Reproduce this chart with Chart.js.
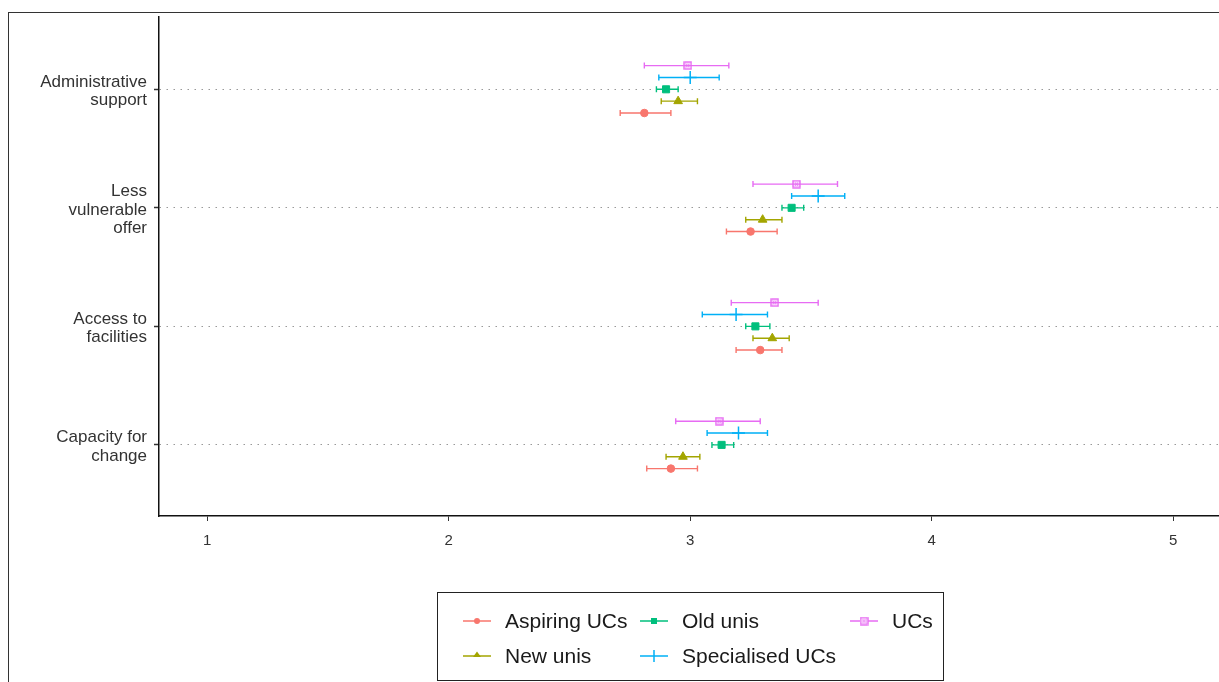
<!DOCTYPE html>
<html>
<head>
<meta charset="utf-8">
<title>Dot and whisker chart</title>
<script src="https://cdn.jsdelivr.net/npm/chart.js@4.4.0/dist/chart.umd.min.js"></script>
<style>
  html, body { margin: 0; padding: 0; background: #fff; }
  #wrap { position: relative; width: 1219px; height: 682px; overflow: hidden; font-family: "Liberation Sans", Arial, sans-serif; }
  #frame { position: absolute; left: 8px; top: 12px; width: 1300px; height: 700px; border-left: 1px solid #333; border-top: 1px solid #333; }
  #chart { position: absolute; left: 0; top: 0; }
  #legend { position: absolute; left: 437px; top: 592px; width: 507px; height: 89px; border: 1px solid #222; box-sizing: border-box; }
  .lg-mark { position: absolute; }
  .lg-text { position: absolute; font-size: 21px; color: #1a1a1a; line-height: 24px; white-space: nowrap; }
</style>
</head>
<body>
<div id="wrap">
  <div id="frame"></div>
  <canvas id="chart" width="1219" height="682"></canvas>
  <div id="legend"></div>
</div>
<script>
/* ===== DATA ===== */
// categories top to bottom, multi-line tick labels
const categories = [['Administrative', 'support'], ['Less', 'vulnerable', 'offer'], ['Access to', 'facilities'], ['Capacity for', 'change']];
const categoryPos = [4, 3, 2, 1];
const xTicks = [1, 2, 3, 4, 5];

const seriesNames = ['Aspiring UCs', 'New unis', 'Old unis', 'Specialised UCs', 'UCs'];
const seriesColors = ['#F8766D', '#A3A500', '#00BF7D', '#00B0F6', '#E76BF3'];
const seriesDodge = [-0.2, -0.1, 0, 0.1, 0.2];

// means and interval ends, same order as categories
const aspiringMean = [2.81, 3.25, 3.29, 2.92];
const aspiringLow  = [2.71, 3.15, 3.19, 2.82];
const aspiringHigh = [2.92, 3.36, 3.38, 3.03];

const newMean = [2.95, 3.30, 3.34, 2.97];
const newLow  = [2.88, 3.23, 3.26, 2.90];
const newHigh = [3.03, 3.38, 3.41, 3.04];

const oldMean = [2.90, 3.42, 3.27, 3.13];
const oldLow  = [2.86, 3.38, 3.23, 3.09];
const oldHigh = [2.95, 3.47, 3.33, 3.18];

const specMean = [3.00, 3.53, 3.19, 3.20];
const specLow  = [2.87, 3.42, 3.05, 3.07];
const specHigh = [3.12, 3.64, 3.32, 3.32];

const ucMean = [2.99, 3.44, 3.35, 3.12];
const ucLow  = [2.81, 3.26, 3.17, 2.94];
const ucHigh = [3.16, 3.61, 3.53, 3.29];

const seriesMean = [aspiringMean, newMean, oldMean, specMean, ucMean];
const seriesLow = [aspiringLow, newLow, oldLow, specLow, ucLow];
const seriesHigh = [aspiringHigh, newHigh, oldHigh, specHigh, ucHigh];

const FONT = '"Liberation Sans", Arial, sans-serif';

// square with a cross inside (UCs marker)
function squareCross(color, size) {
  const c = document.createElement('canvas');
  c.width = size; c.height = size;
  const g = c.getContext('2d');
  g.fillStyle = 'rgba(231,107,243,0.25)';
  g.fillRect(1, 1, size - 2, size - 2);
  g.strokeStyle = color;
  g.lineWidth = 1.4;
  g.strokeRect(1, 1, size - 2, size - 2);
  g.lineWidth = 1;
  g.beginPath();
  g.moveTo(3, 3); g.lineTo(size - 3, size - 3);
  g.moveTo(size - 3, 3); g.lineTo(3, size - 3);
  g.stroke();
  return c;
}

const pointStyles = ['circle', 'triangle', 'rect', 'cross', squareCross(seriesColors[4], 9)];
const pointRadius = [3.8, 5, 5, 6.5, 5];

const datasets = seriesNames.map((name, i) => ({
  label: name,
  data: seriesMean[i].map((m, k) => ({
    x: m,
    y: categoryPos[k] + seriesDodge[i],
    low: seriesLow[i][k],
    high: seriesHigh[i][k]
  })),
  borderColor: seriesColors[i],
  backgroundColor: seriesColors[i],
  pointStyle: pointStyles[i],
  pointRadius: pointRadius[i],
  pointHoverRadius: pointRadius[i],
  pointBorderWidth: i === 3 ? 1.5 : 1,
  showLine: false
}));

// whiskers drawn under the points
const errorBars = {
  id: 'errorBars',
  beforeDatasetsDraw(chart) {
    const { ctx, scales: { x, y } } = chart;
    chart.data.datasets.forEach(ds => {
      ds.data.forEach(p => {
        const yy = y.getPixelForValue(p.y);
        const x0 = x.getPixelForValue(p.low);
        const x1 = x.getPixelForValue(p.high);
        ctx.save();
        ctx.strokeStyle = ds.borderColor;
        ctx.lineWidth = 1.4;
        ctx.beginPath();
        ctx.moveTo(x0, yy); ctx.lineTo(x1, yy);
        ctx.moveTo(x0, yy - 3); ctx.lineTo(x0, yy + 3);
        ctx.moveTo(x1, yy - 3); ctx.lineTo(x1, yy + 3);
        ctx.stroke();
        ctx.restore();
      });
    });
  }
};

// drop the label overhang padding so the plot box sits where the original does
const noPad = s => { s.paddingTop = 0; s.paddingBottom = 0; s.paddingLeft = 0; s.paddingRight = 0; };

new Chart(document.getElementById('chart'), {
  type: 'scatter',
  data: { datasets },
  plugins: [errorBars],
  options: {
    responsive: false,
    animation: false,
    layout: { autoPadding: false, padding: { top: 17, left: 0, right: 0, bottom: 126 } },
    plugins: { legend: { display: false }, tooltip: { enabled: false } },
    scales: {
      x: {
        type: 'linear', min: 0.8, max: 5.19,
        afterBuildTicks: s => { s.ticks = xTicks.map(v => ({ value: v })); },
        afterFit: s => { s.height = 40; noPad(s); },
        grid: { drawOnChartArea: false, tickLength: 5, tickColor: '#333', tickWidth: 1 },
        border: { color: '#111', width: 1.5 },
        ticks: { color: '#333', font: { family: FONT, size: 15 }, padding: 11 }
      },
      y: {
        type: 'linear', min: 0.4, max: 4.61,
        afterBuildTicks: s => { s.ticks = categoryPos.map(v => ({ value: v })); },
        afterFit: s => { s.width = 159; noPad(s); },
        grid: { color: '#999999', lineWidth: 1, tickLength: 5, tickColor: '#333', tickWidth: 1.5, tickBorderDash: [] },
        border: { color: '#111', width: 1.5, dash: [1.5, 5.5] },
        ticks: {
          color: '#333', padding: 7, labelOffset: 2,
          font: { family: FONT, size: 17, lineHeight: 1.1 },
          callback: v => categories[categoryPos.indexOf(v)]
        }
      }
    }
  }
});

/* ===== LEGEND ===== */
// column-wise order like the original: col, row
const legendSlots = [[0, 0], [0, 1], [1, 0], [1, 1], [2, 0]];
const legendMarkLeft = [25, 202, 412];
const legendTextLeft = [67, 244, 454];
const legendRowMid = [28, 63];

function drawLegendMark(i) {
  const c = document.createElement('canvas');
  c.width = 28; c.height = 16;
  c.className = 'lg-mark';
  const g = c.getContext('2d');
  const col = seriesColors[i];
  g.strokeStyle = col; g.fillStyle = col; g.lineWidth = 1.5;
  g.beginPath(); g.moveTo(0, 8); g.lineTo(28, 8); g.stroke();
  if (i === 0) { g.beginPath(); g.arc(14, 8, 3, 0, Math.PI * 2); g.fill(); }
  if (i === 1) { g.beginPath(); g.moveTo(14, 3.5); g.lineTo(18, 9); g.lineTo(10, 9); g.closePath(); g.fill(); }
  if (i === 2) { g.fillRect(11, 5, 6, 6); }
  if (i === 3) { g.beginPath(); g.moveTo(14, 2); g.lineTo(14, 14); g.stroke(); }
  if (i === 4) { g.fillStyle = '#fff'; g.fillRect(10, 4, 8, 8); g.drawImage(squareCross(col, 9), 9.5, 3.5); }
  return c;
}

const legend = document.getElementById('legend');
seriesNames.forEach((name, i) => {
  const [col, row] = legendSlots[i];
  const mark = drawLegendMark(i);
  mark.style.left = legendMarkLeft[col] + 'px';
  mark.style.top = (legendRowMid[row] - 8) + 'px';
  legend.appendChild(mark);
  const t = document.createElement('div');
  t.className = 'lg-text';
  t.textContent = name;
  t.style.left = legendTextLeft[col] + 'px';
  t.style.top = (legendRowMid[row] - 12) + 'px';
  legend.appendChild(t);
});
</script>
</body>
</html>
